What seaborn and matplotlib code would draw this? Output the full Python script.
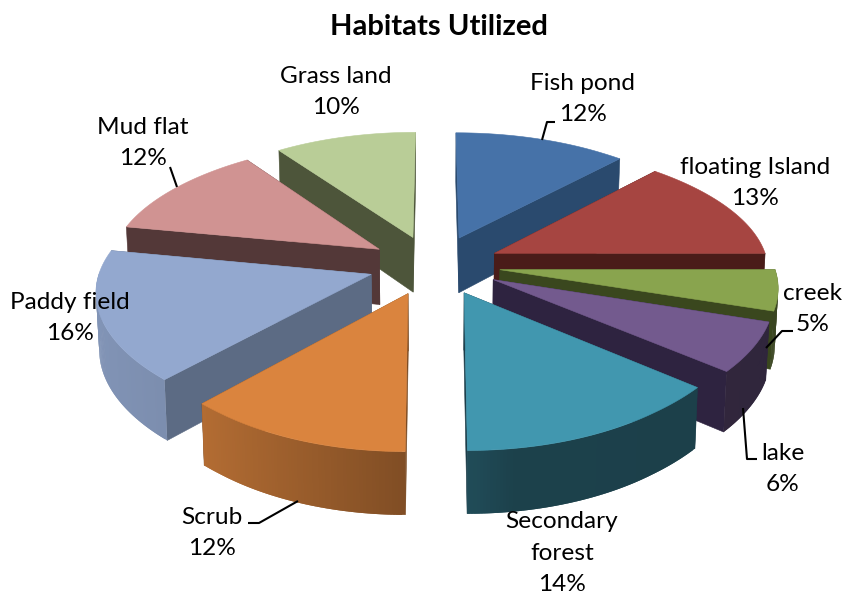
import numpy as np
import matplotlib
matplotlib.use("Agg")
import matplotlib.pyplot as plt
import seaborn as sns
from matplotlib.patches import Polygon

title = "Habitats Utilized"
habitats = ["Fish pond", "floating Island", "creek", "lake", "Secondary\nforest",
            "Scrub", "Paddy field", "Mud flat", "Grass land"]
shares = [12, 13, 5, 6, 14, 12, 16, 12, 10]
top_colors = ["#4672A8", "#A64541", "#89A44E", "#735A8E", "#4197AF",
              "#DA843E", "#93A8CF", "#D09392", "#B9CD97"]
side_colors = ["#2A4A6E", "#4A1C19", "#3A471E", "#2E2340", "#1C3D49",
               "#7A4A22", "#5C6B84", "#533838", "#4D553A"]
label_centers = [(583, 99), (755, 183), (813, 309), (783, 469), (562, 553),
                 (212, 533), (70, 318), (143, 143), (336, 92)]
leaders = {
    "Fish pond": [(542, 140), (547, 122), (555, 122)],
    "creek": [(766, 348), (782, 331), (793, 331)],
    "lake": [(743, 408), (747, 459), (757, 459)],
    "Mud flat": [(177, 187), (170, 167)],
    "Scrub": [(298, 501), (259, 523), (248, 523)],
}
# far slices are painted first so nearer ones overlap them
paint_order = [0, 8, 1, 7, 2, 6, 3, 4, 5]

CX_RIGHT, CX_LEFT, CY = 436.0, 432.0, 265.0
RX_RIGHT, RX_LEFT, RY = 266.0, 262.0, 127.0
PERSPECTIVE = 0.14
PERSPECTIVE_X = 0.126
SIDE_WIDEN = 0.03
EXPLODE = 0.235
DEPTH = 56.0

sns.set_theme(style="white")
plt.rcParams["font.family"] = ["Lato", "DejaVu Sans"]
top_palette = sns.color_palette(top_colors)
side_palette = sns.color_palette(side_colors)


def project(x, y, left, lower=False):
    """Map pie-plane coordinates to the canvas; lower=True gives the bottom face."""
    x, y = np.asarray(x, float), np.asarray(y, float)
    cx, rx = (CX_LEFT, RX_LEFT) if left else (CX_RIGHT, RX_RIGHT)
    widen = 1.0 + SIDE_WIDEN * np.clip(1.0 - y * y, 0.0, 1.0)
    px = cx + rx * x * widen / (1.0 + PERSPECTIVE_X * y)
    py = CY - RY * y / (1.0 + PERSPECTIVE * y)
    if lower:
        px = cx + (px - cx) * 0.99
        py = py + (DEPTH - 6.0 * y)
    return px, py


def rim_shade(x):
    """Light falls from the left: the outer wall darkens towards the right."""
    return np.interp(x, [-1.2, -0.8, 0.0, 0.25, 1.2], [0.88, 0.83, 0.56, 0.43, 0.42])


fig = plt.figure(figsize=(8.45, 5.94), dpi=100)
ax = fig.add_axes([0, 0, 1, 1])
ax.set_xlim(0, 845)
ax.set_ylim(594, 0)
ax.axis("off")

edges = np.cumsum([0] + shares) / sum(shares) * 2 * np.pi


def add_poly(points, color, z, line=0.4):
    ax.add_patch(Polygon(points, closed=True, facecolor=color, edgecolor=color,
                         linewidth=line, zorder=z))


for rank, i in enumerate(paint_order):
    start, end = edges[i], edges[i + 1]
    mid = (start + end) / 2
    ox, oy = EXPLODE * np.sin(mid), EXPLODE * np.cos(mid)
    left = ox < 0
    theta = np.linspace(start, end, max(int(shares[i] * 6), 24))
    rim_x = ox + np.sin(theta)
    rim_y = oy + np.cos(theta)
    base = 10 + rank * 3

    # radial walls
    for ex, ey in ((rim_x[0], rim_y[0]), (rim_x[-1], rim_y[-1])):
        a = project([ox, ex], [oy, ey], left)
        b = project([ex, ox], [ey, oy], left, lower=True)
        add_poly(np.column_stack([np.r_[a[0], b[0]], np.r_[a[1], b[1]]]),
                 side_palette[i], base)

    # outer wall, only where it faces the viewer; each strip runs under the next
    tx, ty = project(rim_x, rim_y, left)
    bx, by = project(rim_x, rim_y, left, lower=True)
    top_rgb = np.array(top_palette[i])
    facing = np.where(np.cos(theta) < 0.02)[0]
    if facing.size > 1:
        for k in facing[:-1]:
            nxt = min(k + 2, facing[-1])
            shade = rim_shade((rim_x[k] + rim_x[k + 1]) / 2)
            idx = range(k, nxt + 1)
            upper = [(tx[j], ty[j]) for j in idx]
            lower = [(bx[j], by[j]) for j in reversed(idx)]
            ax.add_patch(Polygon(upper + lower, closed=True, linewidth=0,
                                 facecolor=tuple(top_rgb * shade), zorder=base + 1))

    # top face
    ax0, ay0 = project(ox, oy, left)
    add_poly(np.column_stack([np.r_[ax0, tx], np.r_[ay0, ty]]), top_palette[i], base + 2)

ax.text(439, 27, title, ha="center", va="center", fontsize=21,
        fontweight="bold", color="black", zorder=60)

for name, share, (lx, ly) in zip(habitats, shares, label_centers):
    ax.text(lx, ly, f"{name}\n{share}%", ha="center", va="center", fontsize=17.6,
            linespacing=1.6, color="black", zorder=60)

for name, pts in leaders.items():
    xs, ys = zip(*pts)
    ax.plot(xs, ys, color="black", linewidth=1.5, solid_capstyle="butt", zorder=55)

fig.savefig("out.png", dpi=100, facecolor="white")
